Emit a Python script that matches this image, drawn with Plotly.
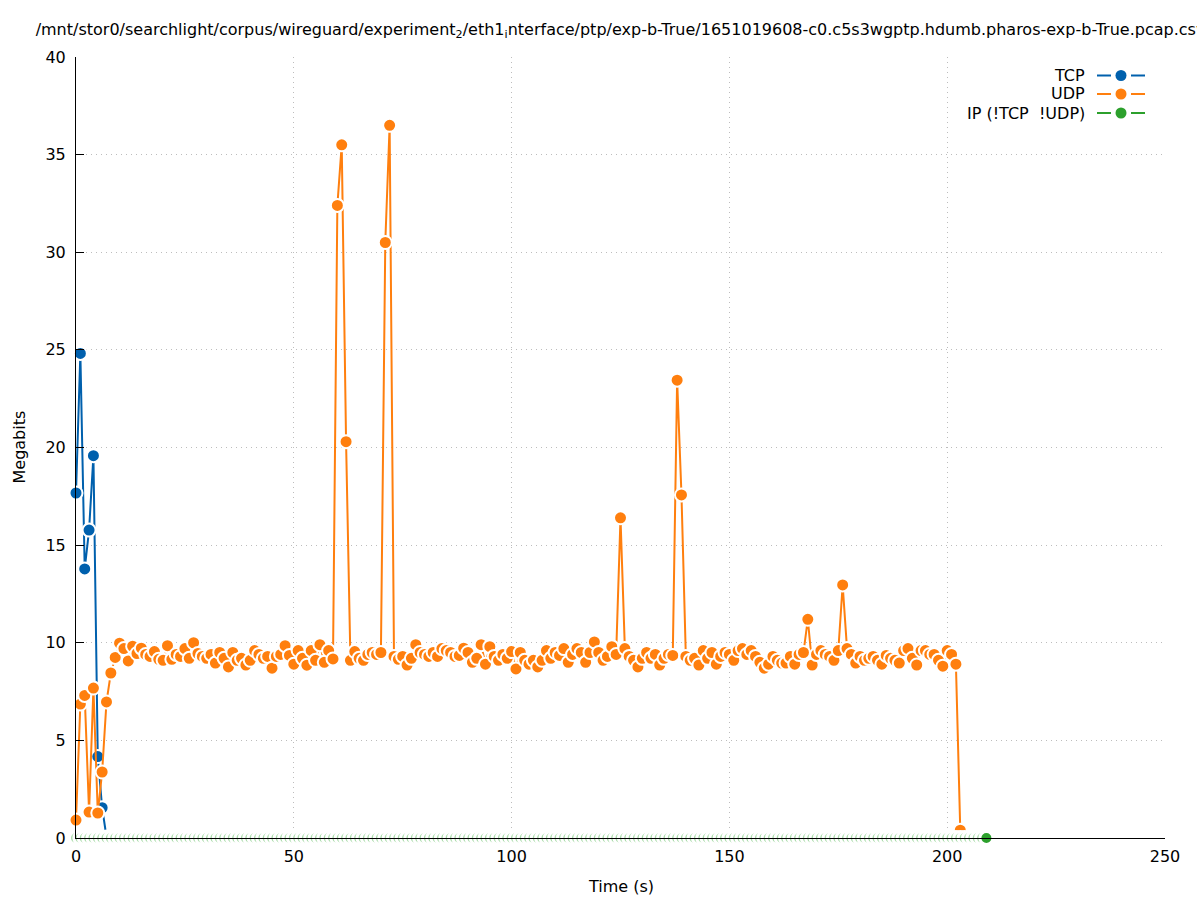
import plotly.graph_objects as go

# ---------------- data ----------------
tcp_time = list(range(8))
tcp_mbits = [17.67, 24.82, 13.78, 15.77, 19.58, 4.17, 1.55, 0.05]

udp_time = list(range(204))
udp_mbits = [
    0.92, 6.86, 7.3, 1.33, 7.68, 1.28, 3.38, 6.97, 8.45, 9.25,
    9.98, 9.7, 9.07, 9.82, 9.45, 9.72, 9.4, 9.3, 9.55, 9.15,
    9.1, 9.85, 9.15, 9.4, 9.3, 9.7, 9.2, 10.0, 9.45, 9.3,
    9.2, 9.4, 8.96, 9.5, 9.2, 8.76, 9.5, 9.1, 9.2, 8.86,
    9.1, 9.6, 9.4, 9.2, 9.3, 8.7, 9.3, 9.4, 9.85, 9.35,
    8.9, 9.6, 9.2, 8.85, 9.6, 9.1, 9.9, 9.0, 9.6, 9.17,
    32.4, 35.5, 20.3, 9.1, 9.55, 9.2, 9.1, 9.4, 9.5, 9.4,
    9.5, 30.5, 36.5, 9.3, 9.15, 9.3, 8.86, 9.2, 9.9, 9.5,
    9.4, 9.3, 9.5, 9.3, 9.7, 9.6, 9.5, 9.3, 9.35, 9.72,
    9.5, 9.0, 9.2, 9.9, 8.9, 9.8, 9.3, 9.1, 9.4, 9.2,
    9.55, 8.66, 9.5, 9.1, 8.9, 9.1, 8.76, 9.1, 9.6, 9.2,
    9.5, 9.35, 9.7, 9.0, 9.4, 9.7, 9.5, 9.0, 9.5, 10.04,
    9.5, 9.1, 9.3, 9.8, 9.4, 16.4, 9.7, 9.3, 9.1, 8.76,
    9.2, 9.5, 9.2, 9.4, 8.86, 9.2, 9.4, 9.35, 23.45, 17.57,
    9.3, 9.1, 9.2, 8.86, 9.6, 9.2, 9.5, 8.9, 9.3, 9.5,
    9.4, 9.1, 9.6, 9.7, 9.4, 9.6, 9.3, 9.0, 8.7, 8.9,
    9.3, 9.1, 8.96, 8.96, 9.3, 8.9, 9.4, 9.5, 11.2, 8.86,
    9.4, 9.6, 9.4, 9.3, 9.1, 9.6, 12.96, 9.7, 9.4, 8.96,
    9.3, 9.1, 9.2, 9.3, 9.1, 8.9, 9.35, 9.2, 9.1, 8.96,
    9.6, 9.7, 9.2, 8.86, 9.6, 9.6, 9.4, 9.4, 9.1, 8.8,
    9.6, 9.4, 8.9, 0.4,
]

ip_time = list(range(210))
ip_mbits = [
    0, 0, 0, 0, 0, 0, 0, 0, 0, 0,  0, 0, 0, 0, 0, 0, 0, 0, 0, 0,
    0, 0, 0, 0, 0, 0, 0, 0, 0, 0,  0, 0, 0, 0, 0, 0, 0, 0, 0, 0,
    0, 0, 0, 0, 0, 0, 0, 0, 0, 0,  0, 0, 0, 0, 0, 0, 0, 0, 0, 0,
    0, 0, 0, 0, 0, 0, 0, 0, 0, 0,  0, 0, 0, 0, 0, 0, 0, 0, 0, 0,
    0, 0, 0, 0, 0, 0, 0, 0, 0, 0,  0, 0, 0, 0, 0, 0, 0, 0, 0, 0,
    0, 0, 0, 0, 0, 0, 0, 0, 0, 0,  0, 0, 0, 0, 0, 0, 0, 0, 0, 0,
    0, 0, 0, 0, 0, 0, 0, 0, 0, 0,  0, 0, 0, 0, 0, 0, 0, 0, 0, 0,
    0, 0, 0, 0, 0, 0, 0, 0, 0, 0,  0, 0, 0, 0, 0, 0, 0, 0, 0, 0,
    0, 0, 0, 0, 0, 0, 0, 0, 0, 0,  0, 0, 0, 0, 0, 0, 0, 0, 0, 0,
    0, 0, 0, 0, 0, 0, 0, 0, 0, 0,  0, 0, 0, 0, 0, 0, 0, 0, 0, 0,
    0, 0, 0, 0, 0, 0, 0, 0, 0, 0,
]

series_names = ["TCP", "UDP", "IP (!TCP  !UDP)"]
x_ticks = [0, 50, 100, 150, 200, 250]
y_ticks = [0, 5, 10, 15, 20, 25, 30, 35, 40]

title_text = ("/mnt/stor0/searchlight/corpus/wireguard/experiment<sub>2</sub>/eth1<sub>i</sub>"
              "nterface/ptp/exp-b-True/1651019608-c0.c5s3wgptp.hdumb.pharos-exp-b-True.pcap.csv")

# ---------------- style ----------------
BLUE = "#0060ad"
ORANGE = "#ff7f0e"
GREEN = "#2ca02c"
FONT = "DejaVu Sans"
FS = 16

W, H = 1197, 900
L, R, T, B = 76, 1165, 57, 838
PW, PH = R - L, B - T


def px(x):
    return (x - L) / PW


def py(y):
    return (B - y) / PH


fig = go.Figure()

fig.add_trace(go.Scatter(
    x=tcp_time, y=tcp_mbits, mode="lines+markers", name=series_names[0],
    line=dict(color=BLUE, width=2),
    marker=dict(color=BLUE, size=13, line=dict(color="white", width=2)),
    showlegend=False, cliponaxis=False))

fig.add_trace(go.Scatter(
    x=udp_time, y=udp_mbits, mode="lines+markers", name=series_names[1],
    line=dict(color=ORANGE, width=2),
    marker=dict(color=ORANGE, size=13, line=dict(color="white", width=2)),
    showlegend=False, cliponaxis=False))

ip_colors = ["#a9dba9"] * (len(ip_time) - 1) + [GREEN]
fig.add_trace(go.Scatter(
    x=ip_time, y=ip_mbits, mode="lines+markers", name=series_names[2],
    line=dict(color=GREEN, width=2),
    marker=dict(color=ip_colors, size=13, line=dict(color="white", width=3)),
    showlegend=False, cliponaxis=False))

grid = dict(showgrid=True, gridcolor="#bdbdbd", griddash="1px,4px", gridwidth=1)

fig.update_layout(
    width=W, height=H,
    margin=dict(l=L, r=W - R, t=T, b=H - B, autoexpand=False),
    paper_bgcolor="white", plot_bgcolor="white",
    font=dict(family=FONT, size=FS, color="black"),
    title=dict(text=title_text, x=0.5, xref="paper", xanchor="center",
               y=1 - 29 / H, yref="container", yanchor="middle",
               font=dict(family=FONT, size=FS, color="black")),
    xaxis=dict(range=[0, 250], tickvals=x_ticks, ticks="", showline=True,
               linecolor="black", linewidth=1, zeroline=False,
               ticklabelstandoff=4, tickfont=dict(size=FS), **grid),
    yaxis=dict(range=[0, 40], tickvals=y_ticks, ticks="inside", ticklen=8,
               tickcolor="black", showline=True, linecolor="black", linewidth=1,
               zeroline=False, ticklabelstandoff=6, tickfont=dict(size=FS), **grid),
    xaxis2=dict(range=[0, 250], tickvals=x_ticks, overlaying="x", side="top",
                ticks="inside", ticklen=8, tickcolor="black", showticklabels=False,
                showline=False, showgrid=False, zeroline=False),
    yaxis2=dict(range=[0, 40], tickvals=y_ticks, overlaying="y", side="right",
                ticks="inside", ticklen=8, tickcolor="black", showticklabels=False,
                showline=False, showgrid=False, zeroline=False),
)

# axis titles
fig.add_annotation(text="Time (s)", xref="paper", yref="paper", x=0.5,
                   y=py(886), xanchor="center", yanchor="middle", showarrow=False,
                   font=dict(family=FONT, size=FS))
fig.add_annotation(text="Megabits", xref="paper", yref="paper", x=px(19),
                   y=0.5, xanchor="center", yanchor="middle", textangle=-90,
                   showarrow=False, font=dict(family=FONT, size=FS))

# custom legend (text on the left, sample on the right, gnuplot style)
legend_rows = [75.5, 94.0, 113.0]
legend_colors = [BLUE, ORANGE, GREEN]
for name, yy, col in zip(series_names, legend_rows, legend_colors):
    fig.add_annotation(text=name, xref="paper", yref="paper", x=px(1087), y=py(yy),
                       xanchor="right", yanchor="middle", showarrow=False,
                       font=dict(family=FONT, size=FS))
    for a, b in [(1097, 1111), (1131, 1145)]:
        fig.add_shape(type="line", xref="paper", yref="paper",
                      x0=px(a), x1=px(b), y0=py(yy), y1=py(yy),
                      line=dict(color=col, width=2))
    fig.add_shape(type="circle", xref="paper", yref="paper",
                  xsizemode="pixel", ysizemode="pixel",
                  xanchor=px(1121), yanchor=py(yy),
                  x0=-5.5, x1=5.5, y0=-5.5, y1=5.5,
                  fillcolor=col, line=dict(color=col, width=0))

fig.write_html("out.html",
               config={"displayModeBar": False},
               post_script="document.body.style.margin='0';document.body.style.overflow='hidden';")
